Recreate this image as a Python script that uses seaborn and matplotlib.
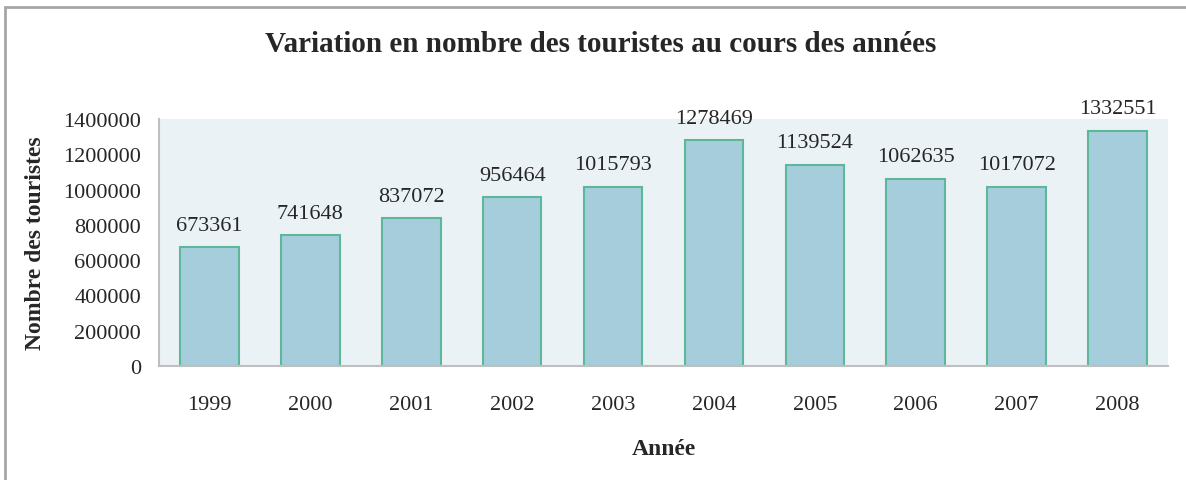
import numpy as np
import pandas as pd
import matplotlib
matplotlib.use("Agg")
import matplotlib.pyplot as plt
import seaborn as sns
from matplotlib.patches import Rectangle

sns.set_style("ticks")
plt.rcParams['font.family'] = ['Liberation Serif', 'DejaVu Serif']

# données
annees = ['1999', '2000', '2001', '2002', '2003', '2004', '2005', '2006', '2007', '2008']
touristes = [673361, 741648, 837072, 956464, 1015793, 1278469, 1139524, 1062635, 1017072, 1332551]
yticks = [0, 200000, 400000, 600000, 800000, 1000000, 1200000, 1400000]

df = pd.DataFrame({'Année': annees, 'Touristes': touristes})

fig = plt.figure(figsize=(11.86, 4.81), dpi=100)
ax = fig.add_axes([159 / 1186, 1 - 367 / 481, (1168 - 159) / 1186, (367 - 120) / 481])

sns.barplot(data=df, x='Année', y='Touristes', ax=ax, color='#A5CDDB',
            edgecolor='#5DB89A', linewidth=1.5, width=0.58, saturation=1)

ax.set_facecolor('#EAF2F6')
ax.set_ylim(0, 1400000)
ax.set_yticks(yticks)
ax.set_yticklabels([str(v) for v in yticks], fontsize=16)
ax.set_xlim(-0.5, len(annees) - 0.5)
ax.tick_params(axis='x', labelsize=16, length=0, pad=21)
ax.tick_params(axis='y', length=0, pad=13)
for s in ['top', 'right']:
    ax.spines[s].set_visible(False)
for s in ['left', 'bottom']:
    ax.spines[s].set_color('#BFBFBF')
    ax.spines[s].set_linewidth(1.5)

ax.bar_label(ax.containers[0], labels=[str(v) for v in touristes], padding=9, fontsize=16)

ax.set_xlabel('Année', fontsize=17, fontweight='bold', labelpad=17)
ax.set_ylabel('Nombre des touristes', fontsize=17, fontweight='bold', labelpad=12)
fig.text(601 / 1186, 1 - 44 / 481, 'Variation en nombre des touristes au cours des années',
         ha='center', va='center', fontsize=21, fontweight='bold')

# cadre du graphique
fig.patches.append(Rectangle((5 / 1186, -0.1), 1.2, 1 - 8 / 481 + 0.1, transform=fig.transFigure,
                             fill=False, edgecolor='#A6A6A6', linewidth=2))

fig.savefig('out.png', dpi=100)
